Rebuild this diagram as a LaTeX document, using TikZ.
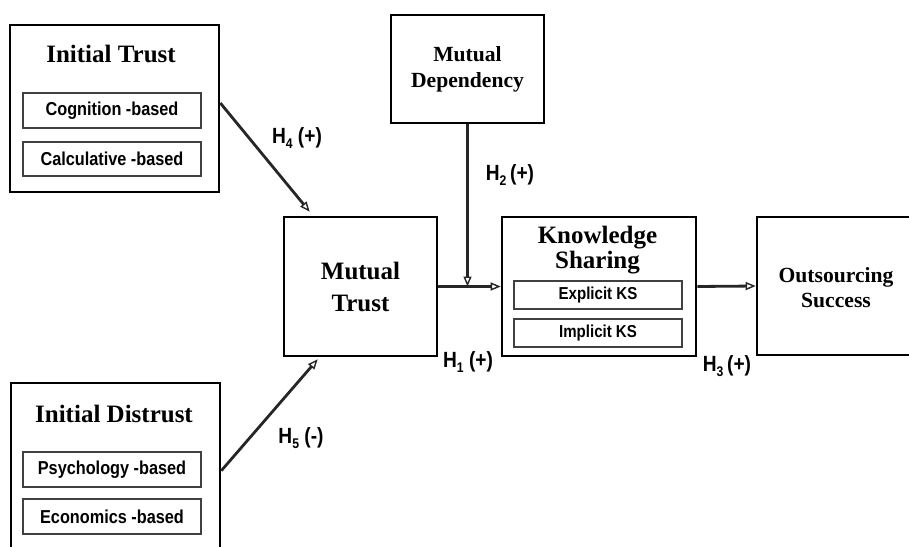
\documentclass[tikz,border=0pt]{standalone}
\usepackage{fontspec}
\setmainfont{Liberation Serif}
\newfontfamily\hsans[FakeStretch=0.87]{Liberation Sans}
\usetikzlibrary{arrows.meta,calc}
\newcommand\hsub[1]{\raisebox{-4.5pt}{\fontsize{14}{14}\selectfont #1}}
\tikzset{
  box/.style={draw=black, line width=2.6pt, fill=white, inner sep=0pt},
  subbox/.style={draw=black!75, line width=1.3pt, inner sep=0pt, font=\hsans\bfseries\fontsize{18.7}{20}\selectfont},
  ttl/.style={font=\bfseries\fontsize{25}{25}\selectfont, inner sep=0pt},
  ttlb/.style={font=\bfseries\fontsize{21.6}{26}\selectfont, inner sep=0pt, align=center},
  hlabel/.style={font=\hsans\bfseries\fontsize{22}{22}\selectfont, inner sep=0pt},
  conn/.style={line width=2.8pt, draw=black!85, -{Triangle[open,length=10pt,width=8pt,line width=1.4pt]}}
}
\begin{document}
\begin{tikzpicture}[x=1pt,y=-1pt]
\clip (0,0) rectangle (909,546);
\fill[white] (0,0) rectangle (909,546);

% Initial Trust
\node[box, minimum width=209pt, minimum height=167pt] (it) at (114.5,108.5) {};
\node[ttl, anchor=base] (itt) at (111,62) {Initial Trust};
\node[subbox, minimum width=178pt, minimum height=35pt] (cog) at (112,110.5) {Cognition -based};
\node[subbox, minimum width=178pt, minimum height=34pt] (cal) at (112,159) {Calculative -based};

% Initial Distrust
\node[box, minimum width=209pt, minimum height=180pt] (id) at (115.5,473) {};
\node[ttl, anchor=base] (idt) at (114,422) {Initial Distrust};
\node[subbox, minimum width=178pt, minimum height=35pt] (psy) at (112,469.5) {Psychology -based};
\node[subbox, minimum width=178pt, minimum height=35pt] (eco) at (112,516.5) {Economics -based};

% Mutual Dependency
\node[box, ttlb, minimum width=153pt, minimum height=108pt] (md) at (467.5,69) {Mutual\\Dependency};

% Mutual Trust
\node[box, font=\bfseries\fontsize{25}{32}\selectfont, align=center, minimum width=153pt, minimum height=139pt] (mt) at (360.5,286.5) {Mutual\\Trust};

% Knowledge Sharing
\node[box, minimum width=194pt, minimum height=139pt] (ks) at (599,286.5) {};
\node[font=\bfseries\fontsize{25}{25}\selectfont, align=center, inner sep=0pt] (kst) at (597.5,250) {Knowledge\\Sharing};
\node[subbox, font=\hsans\bfseries\fontsize{17.3}{18}\selectfont, minimum width=168pt, minimum height=28pt] (eks) at (598,295) {Explicit KS};
\node[subbox, font=\hsans\bfseries\fontsize{17.3}{18}\selectfont, minimum width=168pt, minimum height=28pt] (iks) at (598,333) {Implicit KS};

% Outsourcing Success
\node[box, minimum width=170pt, minimum height=138pt] (os) at (842,286) {};
\node[ttlb, font=\bfseries\fontsize{21.6}{25}\selectfont] (ost) at (836,288) {Outsourcing\\Success};

% connectors
\coordinate (j) at (md.south |- mt.east);
\draw[conn] ($(it.east)+(0,-5.5)$) -- ($(mt.north west)+(27,-4)$);
\draw[conn] ($(id.north east)+(0,89)$) -- ($(mt.south west)+(35,2)$);
\draw[conn] (mt.east) -- (ks.west);
\draw[conn] (md.south) -- (j);
\draw[conn] (ks.east) -- (os.west);

% labels
\node[hlabel] (h4) at (297,138) {H\hsub{4} (+)};
\node[hlabel] (h2) at (510,175) {H\hsub{2}\,(+)};
\node[hlabel] (h1) at (468,362) {H\hsub{1} (+)};
\node[hlabel] (h3) at (727,366) {H\hsub{3}\,(+)};
\node[hlabel] (h5) at (301,438) {H\hsub{5} (-)};
\end{tikzpicture}
\end{document}
